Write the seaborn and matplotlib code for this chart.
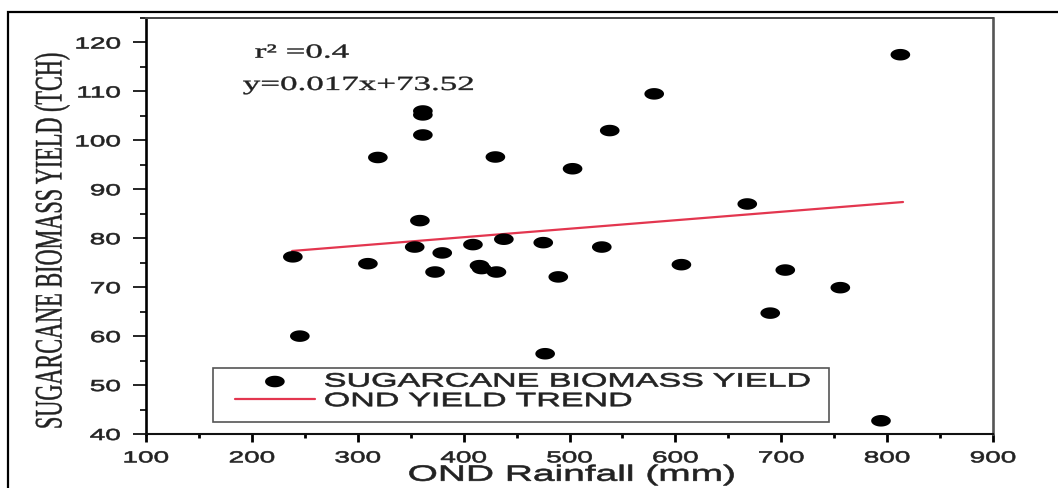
import numpy as np
import pandas as pd
import matplotlib
matplotlib.use("Agg")
import matplotlib.pyplot as plt
import seaborn as sns
from matplotlib.path import Path
from matplotlib.patheffects import AbstractPathEffect
from matplotlib.transforms import Affine2D
from matplotlib.patches import Rectangle
from matplotlib.ticker import MultipleLocator

# ---------------- data ----------------
rainfall_mm = [238.7, 245.3, 309.6, 319.0, 353.8, 358.7, 361.5, 361.5, 361.5,
               373.0, 379.8, 408.8, 415.0, 417.0, 431.0, 430.0, 438.0, 475.2,
               477.0, 489.4, 502.9, 530.5, 538.0, 580.0, 605.7, 667.9, 689.6,
               703.8, 755.8, 794.2, 812.5]
biomass_yield_tch = [76.2, 60.0, 74.8, 96.5, 78.2, 83.6, 101.1, 106.0, 105.2,
                     73.1, 77.0, 78.7, 74.4, 73.8, 73.1, 96.6, 79.8, 79.1,
                     56.4, 72.1, 94.2, 78.2, 102.0, 109.5, 74.6, 87.0, 64.7,
                     73.5, 69.9, 42.7, 117.5]
trend_x = [238, 815]
trend_y = [77.4, 87.4]
x_ticks = [100, 200, 300, 400, 500, 600, 700, 800, 900]
y_ticks = [40, 50, 60, 70, 80, 90, 100, 110, 120]
series_labels = ["SUGARCANE BIOMASS YIELD", "OND YIELD TREND"]
x_label = "OND Rainfall (mm)"
y_label = "SUGARCANE BIOMASS YIELD (TCH)"
stat_texts = ["r\u00b2 =0.4", "y=0.017x+73.52"]

# ---------------- style ----------------
sns.set_style("white")
plt.rcParams["font.family"] = ["Liberation Sans", "DejaVu Sans"]

SX = 1.75  # the reference is horizontally stretched


class HStretch(AbstractPathEffect):
    """Draw text glyphs horizontally widened around an anchor."""

    def __init__(self, anchor="center", sx=SX, stroke=0.45):
        super().__init__()
        self.anchor = anchor
        self.sx = sx
        self.stroke = stroke

    def draw_path(self, renderer, gc, tpath, affine, rgbFace=None):
        bb = tpath.get_extents(affine)
        if self.anchor == "left":
            x0 = bb.x0
        elif self.anchor == "right":
            x0 = bb.x1
        else:
            x0 = 0.5 * (bb.x0 + bb.x1)
        aff = affine + Affine2D().translate(-x0, 0).scale(self.sx, 1).translate(x0, 0)
        gc0 = renderer.new_gc()
        gc0.copy_properties(gc)
        if rgbFace is not None:
            gc0.set_foreground(rgbFace)
        gc0.set_linewidth(self.stroke)
        renderer.draw_path(gc0, tpath, aff, rgbFace)
        gc0.restore()


W, H = 1058, 488
fig = plt.figure(figsize=(W / 100, H / 100), dpi=100)
ax = fig.add_axes([146 / W, 54 / H, 847 / W, 416 / H])

# elliptical marker (dots are wider than tall in the reference)
theta = np.linspace(0, 2 * np.pi, 61)
ellipse = Path(np.column_stack([np.cos(theta), np.sin(theta) / 1.7]))

df = pd.DataFrame({"rain": rainfall_mm, "yield": biomass_yield_tch})
sns.scatterplot(data=df, x="rain", y="yield", marker=ellipse, s=200,
                color="black", edgecolor="none", linewidth=0, ax=ax,
                legend=False, zorder=3)
sns.lineplot(x=trend_x, y=trend_y, color="#e3364f", lw=1.6, ax=ax,
             legend=False, zorder=2)
sc = ax.collections[0]
ln = ax.lines[0]

# axes limits / ticks
ax.set_xlim(100, 900)
ax.set_ylim(40, 125)
ax.set_xticks(x_ticks)
ax.set_yticks(y_ticks)
ax.xaxis.set_minor_locator(MultipleLocator(50))
ax.yaxis.set_minor_locator(MultipleLocator(5))
ax.tick_params(axis="x", which="major", direction="out", length=5.8, width=2.0,
               pad=6, labelsize=11.5, color="black", labelcolor="#222222",
               bottom=True, top=False)
ax.tick_params(axis="x", which="minor", direction="out", length=3.0, width=2.0,
               color="black", bottom=True, top=False)
ax.tick_params(axis="y", which="major", direction="out", length=9.4, width=1.2,
               pad=9, labelsize=11.5, color="black", labelcolor="#222222",
               left=True, right=False)
ax.tick_params(axis="y", which="minor", direction="out", length=4.3, width=1.2,
               color="black", left=True, right=False)
for t in ax.get_xticklabels():
    t.set_path_effects([HStretch("center")])
for t in ax.get_yticklabels():
    t.set_path_effects([HStretch("right")])

for name, sp in ax.spines.items():
    sp.set_visible(True)
ax.spines["left"].set_color("black")
ax.spines["left"].set_linewidth(1.9)
ax.spines["bottom"].set_color("#111111")
ax.spines["bottom"].set_linewidth(1.5)
ax.spines["top"].set_color("#444444")
ax.spines["top"].set_linewidth(1.4)
ax.spines["right"].set_color("#555555")
ax.spines["right"].set_linewidth(1.9)

# axis labels
ax.set_xlabel(x_label, fontsize=16, color="#222222")
ax.xaxis.set_label_coords(0.503, -0.074)
ax.xaxis.label.set_path_effects([HStretch("center")])
ax.set_ylabel(y_label, fontsize=16, color="#222222",
              family=["Liberation Serif", "DejaVu Serif"])
ax.yaxis.label.set_verticalalignment("center")
ax.yaxis.set_label_coords(-0.110, 0.465)
ax.yaxis.label.set_path_effects([HStretch("center", stroke=0.3)])

# regression statistics
ax.text(203, 116.9, stat_texts[0], fontsize=14.4, ha="left", va="baseline",
        color="#222222", family=["Liberation Serif", "DejaVu Serif"],
        path_effects=[HStretch("left", stroke=0.3)])
ax.text(191.6, 110.3, stat_texts[1], fontsize=14.4, ha="left", va="baseline",
        color="#222222", family=["Liberation Serif", "DejaVu Serif"],
        path_effects=[HStretch("left", stroke=0.3)])

# legend
leg = ax.legend([sc, ln], series_labels, loc="upper left",
                bbox_to_anchor=(0.1051, 0.1466), frameon=False, fontsize=14,
                handlelength=4.1, handletextpad=0.5, borderpad=0,
                borderaxespad=0, labelspacing=0.1, scatterpoints=1)
for t in leg.get_texts():
    t.set_color("#222222")
    t.set_path_effects([HStretch("left")])
ax.add_patch(Rectangle((0.0791, 0.0288), 0.7273, 0.1299, transform=ax.transAxes,
                       fill=False, ec="#555555", lw=1.2, zorder=4, clip_on=False))

# outer frame around the figure (visible on top and left only)
fig.add_artist(Rectangle((8 / W, -0.2), 1.5, (H - 12) / H + 0.2,
                         transform=fig.transFigure, fill=False, ec="black",
                         lw=1.6, clip_on=False))

fig.savefig("out.png", dpi=100)
